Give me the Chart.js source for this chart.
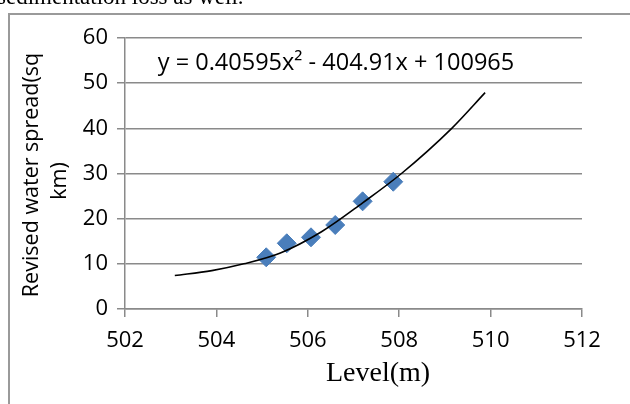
<!DOCTYPE html>
<html>
<head>
<meta charset="utf-8">
<script src="https://cdn.jsdelivr.net/npm/chart.js@4/dist/chart.umd.min.js"></script>
<style>
  html, body { margin: 0; padding: 0; background: #fff; overflow: hidden; }
  #wrap { position: relative; width: 630px; height: 404px; }
  #canva { position: absolute; left: 0; top: 0; }
  #above { position: absolute; left: -3px; top: -14px; font: 23px/22px "Liberation Serif", serif; color: #000; white-space: nowrap; }
</style>
</head>
<body>
<div id="wrap">
  <canvas id="canva" width="630" height="404"></canvas>
  <div id="above">sedimentation loss as well.</div>
</div>
<script>
// measured points
var levels = [505.09, 505.54, 506.07, 506.6, 507.2, 507.87];
var spread = [11.45, 14.55, 15.87, 18.6, 23.84, 28.18];

// polynomial trendline
var trendLevels = [503.09, 503.9, 504.6, 505.4, 506.3, 507.2, 508.05, 509.15, 509.88];
var trendSpread = [7.4, 8.5, 10.0, 12.4, 17.1, 23.5, 30.0, 40.0, 47.9];

var xTicks = [502, 504, 506, 508, 510, 512];
var yTicks = [0, 10, 20, 30, 40, 50, 60];

var equation = "y = 0.40595x\u00B2 - 404.91x + 100965";
var xTitle = "Level(m)";
var yTitle = ["Revised water spread(sq", "km)"];

var tickFont = { family: "'Open Sans', sans-serif", size: 22 };

function toPoints(xs, ys) {
  var out = [];
  for (var i = 0; i < xs.length; i++) out.push({ x: xs[i], y: ys[i] });
  return out;
}

// texts that sit on top of the plot in the original
var textPlugin = {
  id: 'texts',
  afterDraw: function (chart) {
    var ctx = chart.ctx;
    ctx.save();
    // outer frame
    ctx.strokeStyle = '#9a9a9a';
    ctx.lineWidth = 2;
    ctx.beginPath();
    ctx.moveTo(9, 404);
    ctx.lineTo(9, 14);
    ctx.lineTo(630, 14);
    ctx.stroke();

    ctx.fillStyle = '#000';
    ctx.font = "23.5px 'Open Sans', sans-serif";
    ctx.textAlign = 'center';
    ctx.textBaseline = 'alphabetic';
    ctx.fillText(equation, 336, 70);

    ctx.font = "28px 'Liberation Serif', serif";
    ctx.fillText(xTitle, 378, 381);

    ctx.font = "21.5px 'Open Sans', sans-serif";
    ctx.textBaseline = 'middle';
    ctx.translate(32, 175);
    ctx.rotate(-Math.PI / 2);
    ctx.fillText(yTitle[0], 0, 0);
    ctx.rotate(Math.PI / 2);
    ctx.translate(28, 6);
    ctx.rotate(-Math.PI / 2);
    ctx.fillText(yTitle[1], 0, 0);
    ctx.restore();
  }
};

var canva = document.getElementById("canva");
var ctx = canva.getContext('2d');

var config = {
  type: 'scatter',
  data: {
    datasets: [{
      label: 'Poly. trend',
      data: toPoints(trendLevels, trendSpread),
      showLine: true,
      borderColor: '#000',
      borderWidth: 1.6,
      pointRadius: 0,
      cubicInterpolationMode: 'monotone',
      fill: false
    }, {
      label: 'Revised water spread',
      data: toPoints(levels, spread),
      pointStyle: 'rectRot',
      pointRadius: 9.5,
      pointBackgroundColor: '#4a7ebb',
      pointBorderColor: '#4a7ebb',
      pointBorderWidth: 1
    }]
  },
  options: {
    responsive: false,
    animation: false,
    layout: { padding: { left: 0, top: 38, right: 48, bottom: 0 } },
    plugins: {
      legend: { display: false },
      tooltip: { enabled: false }
    },
    scales: {
      x: {
        type: 'linear',
        min: xTicks[0],
        max: xTicks[xTicks.length - 1],
        afterBuildTicks: function (scale) {
          scale.ticks = xTicks.map(function (v) { return { value: v }; });
        },
        afterFit: function (scale) { scale.height = 95; },
        grid: {
          drawOnChartArea: false,
          drawTicks: true,
          tickLength: 8,
          color: '#8a8a8a',
          lineWidth: 1.5
        },
        border: { color: '#8a8a8a', width: 1.5 },
        ticks: { font: tickFont, color: '#000', padding: 11, maxRotation: 0 }
      },
      y: {
        min: yTicks[0],
        max: yTicks[yTicks.length - 1],
        afterBuildTicks: function (scale) {
          scale.ticks = yTicks.map(function (v) { return { value: v }; });
        },
        afterFit: function (scale) { scale.width = 125; },
        grid: {
          drawTicks: true,
          tickLength: 8,
          color: '#8a8a8a',
          lineWidth: 1.5
        },
        border: { color: '#8a8a8a', width: 1.5 },
        ticks: { font: tickFont, color: '#000', padding: 9 }
      }
    }
  },
  plugins: [textPlugin]
};
new Chart(ctx, config);
</script>
</body>
</html>
